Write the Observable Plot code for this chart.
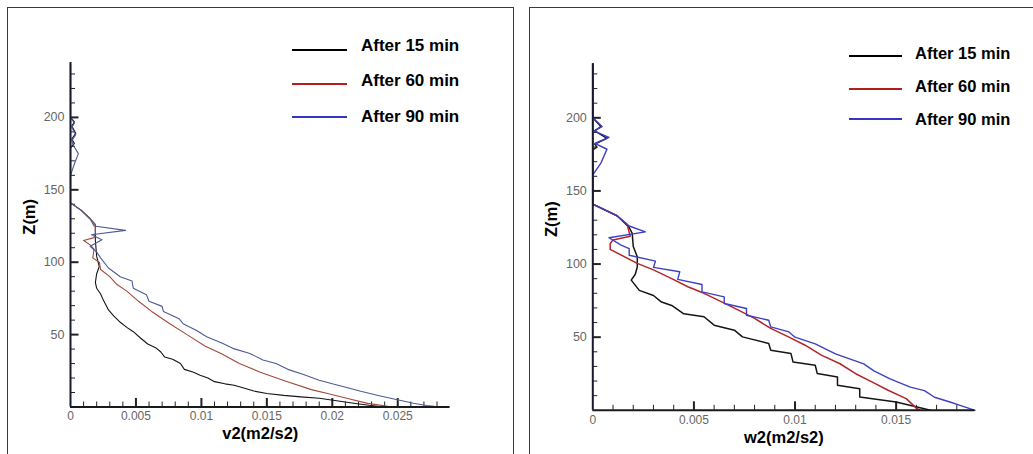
<!DOCTYPE html>
<html>
<head>
<meta charset="utf-8">
<script src="https://cdn.jsdelivr.net/npm/d3@7"></script>
<script src="https://cdn.jsdelivr.net/npm/@observablehq/plot@0.6"></script>
<style>
  html, body { margin: 0; padding: 0; background: #fff; }
  #wrap { position: relative; width: 1033px; height: 454px; overflow: hidden; background: #fff; font-family: "Liberation Sans", Arial, sans-serif; }
  .frame { position: absolute; border: 1px solid #3a3a3a; box-sizing: border-box; }
  .plotbox { position: absolute; top: 0; }
  .lg-line { position: absolute; height: 2px; }
  .lg-text { position: absolute; height: 20px; line-height: 20px; font-weight: bold; color: #000; white-space: nowrap; }
</style>
</head>
<body>
<div id="wrap">
  <div class="frame" style="left:7px;top:7px;width:507px;height:470px;"></div>
  <div class="frame" style="left:529px;top:7px;width:520px;height:470px;"></div>
  <div class="plotbox" id="left" style="left:0px;"></div>
  <div class="plotbox" id="right" style="left:515px;"></div>
  <div id="legendLeft"></div>
  <div id="legendRight"></div>
</div>
<script>
// ---------- data ----------
const seriesNames = ["After 15 min", "After 60 min", "After 90 min"];

// v2 profiles: [v2 (m2/s2), Z (m)]
const v2After15 = [[0,237],[0,200],[0.0003,197],[0.0001,194],[0.0004,189],[0.0001,185],[0.0003,182],[0,179],[0,141],[0.0008,136],[0.0015,130],[0.0019,126],[0.0019,115],[0.002,104],[0.0022,97],[0.002,92],[0.0019,86],[0.002,82],[0.0023,78],[0.0025,74],[0.0029,67],[0.0033,63],[0.0038,58.5],[0.0043,55],[0.0048,52],[0.0053,48],[0.0059,43.5],[0.0065,41],[0.0069,38],[0.0072,34.5],[0.0078,33],[0.0084,30],[0.0087,26],[0.0094,24],[0.0099,22],[0.0105,20],[0.011,17.5],[0.0118,16],[0.0125,15],[0.0133,13],[0.014,11],[0.015,9.3],[0.0163,8],[0.0176,7],[0.019,6],[0.0202,4.5],[0.0215,2.8],[0.0228,1.2],[0.024,0]];
const v2After60 = [[0,237],[0,141],[0.0008,136],[0.0015,130],[0.0019,126],[0.0019,120],[0.0018,117],[0.001,115],[0.0015,112],[0.0018,109],[0.0017,103],[0.0022,100],[0.0023,95],[0.003,90],[0.0035,85],[0.0043,80],[0.0052,73],[0.0062,66],[0.0075,58],[0.0089,50],[0.0103,42],[0.0115,37],[0.0129,30],[0.0145,24],[0.0164,18],[0.0184,12],[0.0198,9],[0.0211,6],[0.0227,2.5],[0.0246,0]];
const v2After90 = [[0,237],[0,200],[0.0003,196],[0.0001,193],[0.0004,188],[0.0001,184],[0.0002,181],[0.0006,175],[0.0003,168],[0,160],[0,141],[0.0008,136],[0.0015,130],[0.0018,125],[0.0042,122],[0.0016,119],[0.0024,115.5],[0.0015,111],[0.002,107],[0.0023,103],[0.0029,96],[0.0038,90],[0.0047,87],[0.0048,82],[0.0058,77.5],[0.006,73],[0.007,69.5],[0.0071,66],[0.0083,61],[0.0086,57.5],[0.0096,53],[0.0104,48.5],[0.0116,44],[0.0124,40.5],[0.0137,37],[0.0147,32.5],[0.0157,30],[0.0166,26],[0.0178,22.5],[0.019,18.5],[0.02,16],[0.0211,13.5],[0.0221,11],[0.0235,8],[0.0248,5.3],[0.0262,2.6],[0.0272,1],[0.0283,0]];

// w2 profiles: [w2 (m2/s2), Z (m)]
const w2After15 = [[0,237],[0,200],[0.0004,194],[0.0001,191],[0.0007,186],[0.0001,182],[0.0002,180],[0,178],[0,141],[0.0012,133],[0.0018,125],[0.00195,121],[0.002,112],[0.0022,105],[0.0022,98],[0.0021,93],[0.0019,89],[0.0023,82],[0.003,78.5],[0.0034,74],[0.0039,71.7],[0.0045,66],[0.0055,64],[0.006,58.2],[0.007,54.8],[0.0074,50.2],[0.0087,45.7],[0.0088,41.1],[0.0098,38.8],[0.0099,33.1],[0.011,30.8],[0.0111,25.1],[0.0121,22.8],[0.0121,17.1],[0.0132,14.8],[0.0132,9.1],[0.015,5.7],[0.0167,0]];
const w2After60 = [[0,237],[0,141],[0.0012,133],[0.0017,127],[0.00185,119],[0.001,116.4],[0.00086,114],[0.00086,110],[0.0022,100.5],[0.003,96],[0.0039,90],[0.0047,84.5],[0.0055,80],[0.0064,74],[0.0072,68.5],[0.008,62.8],[0.0088,56],[0.0097,50],[0.0105,44.5],[0.0113,37.7],[0.0122,32],[0.013,25],[0.0138,19.4],[0.0146,13.7],[0.0155,8],[0.016,1.5],[0.0162,0]];
const w2After90 = [[0,237],[0,200],[0.00046,194],[0.00005,191],[0.0008,186.6],[0.0001,182.5],[0.0007,178.5],[0.0004,169],[0,161],[0,141],[0.0012,133],[0.0018,126],[0.0026,122],[0.0008,118],[0.0014,113],[0.0018,110.5],[0.0018,106],[0.0031,102],[0.003,97.7],[0.0043,94.7],[0.0042,89.5],[0.0054,86],[0.0054,81],[0.0065,77.6],[0.0065,73],[0.0076,69.6],[0.0076,65],[0.0087,61.6],[0.0088,57],[0.0097,53.6],[0.01,50],[0.011,45.4],[0.012,38.6],[0.0134,31.7],[0.0139,27],[0.0147,21.5],[0.0157,15.8],[0.0164,13.5],[0.0169,8.9],[0.0177,5.5],[0.0182,3.2],[0.0189,0]];

// axis ticks / labels
const v2TickLabels = [0, 0.005, 0.01, 0.015, 0.02, 0.025];
const w2TickLabels = [0, 0.005, 0.01, 0.015];
const zTickLabels = [50, 100, 150, 200];

// ---------- drawing ----------
const FONT = "'Liberation Sans', Arial, Helvetica, sans-serif";

function panel({series, colors, widths, xMax, yMax, width, height, margins, xTicks, xMinorMax, xTitle, titleDy, tickDy}) {
  const [mt, mr, mb, ml] = margins;
  const innerW = width - ml - mr;
  const innerH = height - mt - mb;
  const xMinor = d3.range(1, Math.round(xMinorMax * 1000) + 1).map(i => i / 1000).filter(v => Math.round(v * 1000) % 5 !== 0);
  const xMajor = xTicks.filter(v => v > 0);
  const yMinor = d3.range(1, Math.floor(yMax / 10) + 1).map(i => i * 10).filter(v => v % 50 !== 0);
  const fmt = v => v === 0 ? "0" : String(v);
  const marks = [
    // inward minor / major ticks
    Plot.ruleX(xMinor, {x: d => d, insetTop: innerH - 5, stroke: "#222", strokeWidth: 1}),
    Plot.ruleX(xMajor, {x: d => d, insetTop: innerH - 8.5, stroke: "#222", strokeWidth: 2}),
    Plot.ruleY(yMinor, {y: d => d, insetRight: innerW - 5, stroke: "#222", strokeWidth: 1}),
    Plot.ruleY(zTickLabels, {y: d => d, insetRight: innerW - 8.5, stroke: "#222", strokeWidth: 2}),
    // tick labels
    Plot.text(xTicks, {x: d => d, text: fmt, frameAnchor: "bottom", dy: tickDy, lineAnchor: "middle", fill: "#666", fontSize: 12}),
    Plot.text(zTickLabels, {y: d => d, text: d => String(d), frameAnchor: "left", dx: -6, textAnchor: "end", fill: "#666", fontSize: 12.5}),
    // axis titles
    Plot.text([xTitle], {text: d => d, frameAnchor: "bottom", dy: titleDy, lineAnchor: "middle", fontWeight: "bold", fontSize: 16.5, fill: "#000"}),
    Plot.text(["Z(m)"], {text: d => d, frameAnchor: "left", dx: -41, rotate: -90, fontWeight: "bold", fontSize: 16.5, fill: "#000"})
  ];
  series.forEach((s, i) => {
    marks.push(Plot.line(s, {x: d => d[0], y: d => d[1], stroke: colors[i], strokeWidth: widths[i], curve: "linear", strokeLinejoin: "round"}));
  });
  // axis lines on top
  marks.push(Plot.ruleY([0], {stroke: "#1a1a1a", strokeWidth: 2}));
  marks.push(Plot.ruleX([0], {stroke: "#1a1a2e", strokeWidth: 2}));
  return Plot.plot({
    width, height,
    marginTop: mt, marginRight: mr, marginBottom: mb, marginLeft: ml,
    x: {domain: [0, xMax], axis: null},
    y: {domain: [0, yMax], axis: null},
    style: {background: "transparent", fontFamily: FONT, overflow: "visible"},
    marks
  });
}

const left = panel({
  series: [v2After15, v2After60, v2After90],
  colors: ["#151515", "#a24a3c", "#4d5b98"],
  widths: [1.1, 1.1, 1.1],
  xMax: 0.029, yMax: 238,
  width: 515, height: 454,
  margins: [61.9, 65.4, 47.5, 70],
  xTicks: v2TickLabels, xMinorMax: 0.028,
  xTitle: "v2(m2/s2)", titleDy: 26.5, tickDy: 9.5
});
document.getElementById("left").appendChild(left);

const right = panel({
  series: [w2After15, w2After60, w2After90],
  colors: ["#151515", "#b2262b", "#3f3fc4"],
  widths: [1.5, 1.5, 1.4],
  xMax: 0.0189, yMax: 237,
  width: 518, height: 454,
  margins: [63.2, 58.5, 44.2, 77.3],
  xTicks: w2TickLabels, xMinorMax: 0.018,
  xTitle: "w2(m2/s2)", titleDy: 27, tickDy: 10
});
document.getElementById("right").appendChild(right);

// ---------- legends ----------
const legendColors = ["#000000", "#b01e1e", "#3535c0"];
function legend(containerId, {lineX, lineW, lineYs, textX, textYs, fontSize}) {
  const c = document.getElementById(containerId);
  seriesNames.forEach((name, i) => {
    const l = document.createElement("div");
    l.className = "lg-line";
    l.style.left = lineX + "px";
    l.style.width = lineW + "px";
    l.style.top = (lineYs[i] - 1) + "px";
    l.style.background = legendColors[i];
    c.appendChild(l);
    const t = document.createElement("div");
    t.className = "lg-text";
    t.style.left = textX + "px";
    t.style.top = (textYs[i] - 10) + "px";
    t.style.fontSize = fontSize + "px";
    t.textContent = name;
    c.appendChild(t);
  });
}
legend("legendLeft", {lineX: 292, lineW: 55, lineYs: [50, 83.5, 117], textX: 361, textYs: [45.5, 81, 116.5], fontSize: 17});
legend("legendRight", {lineX: 849, lineW: 53, lineYs: [56, 88.5, 118.5], textX: 915, textYs: [52.5, 86, 119], fontSize: 16.5});
</script>
</body>
</html>
